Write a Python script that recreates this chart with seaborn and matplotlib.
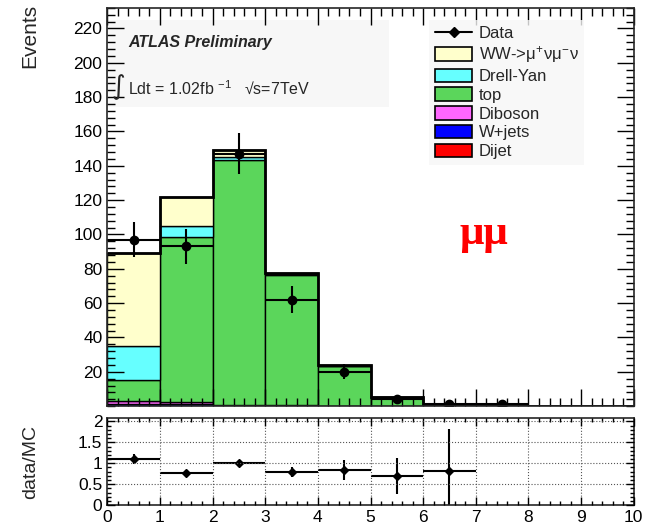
import numpy as np
import matplotlib
matplotlib.use("Agg")
import matplotlib.pyplot as plt
import seaborn as sns
from matplotlib.ticker import MultipleLocator, FixedLocator
from matplotlib.lines import Line2D
from matplotlib.patches import Patch

# bin edges / centres
edges = np.arange(0, 11, 1)
centres = edges[:-1] + 0.5

# MC stack components (per bin), bottom to top
dijet   = [0.3, 0.2, 0.1, 0.1, 0.0, 0.0, 0.0, 0.0, 0, 0]
wjets   = [0.7, 1.3, 0.3, 0.2, 0.1, 0.0, 0.0, 0.0, 0, 0]
diboson = [2.0, 0.8, 0.3, 0.3, 0.2, 0.1, 0.0, 0.0, 0, 0]
top     = [12.2, 96.0, 142.5, 76.0, 23.0, 5.2, 1.2, 0.2, 0, 0]
drellyan = [20.0, 6.5, 2.0, 0.5, 0.2, 0.0, 0.0, 0.0, 0, 0]
ww      = [54.0, 17.0, 4.0, 0.5, 0.2, 0.1, 0.0, 0.0, 0, 0]

# data
data_y   = [97, 93, 147, 62, 20, 4, 1, 1]
data_err = [10, 10, 12, 8, 4.5, 2, 1, 1]

# data / MC
ratio_y   = [1.11, 0.76, 1.0, 0.79, 0.85, 0.70, 0.81]
ratio_lo  = [0.12, 0.05, 0.09, 0.11, 0.24, 0.43, 0.81]
ratio_hi  = [0.12, 0.05, 0.09, 0.11, 0.24, 0.43, 1.02]

names  = ["Dijet", "W+jets", "Diboson", "top", "Drell-Yan", "WW->$\\mu^{+}\\nu\\mu^{-}\\nu$"]
colors = ["#ff0000", "#0000ff", "#ff66ff", "#5bd65b", "#66ffff", "#ffffcc"]
comps  = [dijet, wjets, diboson, top, drellyan, ww]

sns.set_theme(style="ticks")
plt.rcParams['font.family'] = ['Liberation Sans', 'DejaVu Sans']
plt.rcParams['mathtext.fontset'] = 'custom'
plt.rcParams['mathtext.rm'] = 'Liberation Sans'
plt.rcParams['mathtext.it'] = 'Liberation Sans'
plt.rcParams['axes.axisbelow'] = False
plt.rcParams['xtick.direction'] = 'in'
plt.rcParams['ytick.direction'] = 'in'
plt.rcParams['xtick.color'] = 'black'
plt.rcParams['ytick.color'] = 'black'

fig = plt.figure(figsize=(6.5, 5.24), dpi=100)
ax = fig.add_axes([0.165, 0.225, 0.81, 0.76])
ax2 = fig.add_axes([0.165, 0.036, 0.81, 0.166])

# stacked histogram
bottom = np.zeros(len(centres))
for vals, col in zip(comps, colors):
    vals = np.array(vals, dtype=float)
    ax.bar(centres, vals, width=1.0, bottom=bottom, color=col,
           edgecolor="black", linewidth=1.0)
    bottom = bottom + vals
# outline of total
ax.stairs(bottom, edges, color="black", linewidth=2.0, baseline=None)

# data points
ax.errorbar(centres[:len(data_y)], data_y, yerr=data_err, xerr=0.5,
            fmt="o", color="black", markersize=6, elinewidth=1.5, capsize=0)

ax.set_xlim(0, 10)
ax.set_ylim(0, 232)
ax.yaxis.set_major_locator(FixedLocator(np.arange(20, 221, 20)))
ax.yaxis.set_minor_locator(MultipleLocator(4))
ax.xaxis.set_major_locator(MultipleLocator(1))
ax.xaxis.set_minor_locator(MultipleLocator(0.2))
ax.tick_params(which="both", direction="in", top=True, right=True, labelbottom=False,
               color="black", zorder=5)
ax.tick_params(which="major", length=12, width=1.0, labelsize=12.5)
ax.tick_params(which="minor", length=6, width=1.0)
ax.set_ylabel("Events", fontsize=15)
ax.yaxis.set_label_coords(-0.13, 0.93)
for s in ax.spines.values():
    s.set_linewidth(1.2)
    s.set_zorder(6)

# text boxes
ax.add_patch(plt.Rectangle((0.0, 0.75), 0.535, 0.22, transform=ax.transAxes,
                           facecolor="#f7f7f7", edgecolor="none", zorder=0))
ax.text(0.04, 0.913, "ATLAS Preliminary", transform=ax.transAxes,
        fontsize=11.5, fontweight="bold", fontstyle="italic", va="center")
ax.text(0.008, 0.80, "\u222b", transform=ax.transAxes, fontsize=19,
        family="DejaVu Sans", va="center")
ax.text(0.04, 0.80, "Ldt = 1.02fb $^{-1}$   \u221as=7TeV",
        transform=ax.transAxes, fontsize=11.5, va="center")
ax.text(7.15, 100, "\u03bc\u03bc", color="#ff0000", fontsize=31, fontweight="bold",
        family="Liberation Serif", ha="center", va="center")

# legend
handles = [Line2D([0], [0], color="black", marker="D", markersize=5, lw=1.5)]
labels = ["Data"]
for n, c in list(zip(names, colors))[::-1]:
    handles.append(Patch(facecolor=c, edgecolor="black", linewidth=1.2))
    labels.append(n)
leg = ax.legend(handles, labels, loc="upper left", bbox_to_anchor=(0.612, 0.97),
                fontsize=12, frameon=True, handlelength=2.2, handleheight=0.85,
                labelspacing=0.2, handletextpad=0.4, borderpad=0.35, borderaxespad=0)
leg.get_frame().set_facecolor("#f7f7f7")
leg.get_frame().set_edgecolor("none")
leg.get_frame().set_boxstyle("square", pad=0)

# ratio panel
ax2.errorbar(centres[:len(ratio_y)], ratio_y, yerr=[ratio_lo, ratio_hi], xerr=0.5,
             fmt="D", color="black", markersize=4, elinewidth=1.5, capsize=0)
ax2.set_xlim(0, 10)
ax2.set_ylim(0, 2.08)
ax2.yaxis.set_major_locator(FixedLocator([0, 0.5, 1, 1.5, 2]))
ax2.set_yticklabels(["0", "0.5", "1", "1.5", "2"])
ax2.yaxis.set_minor_locator(MultipleLocator(0.1))
ax2.xaxis.set_major_locator(MultipleLocator(1))
ax2.xaxis.set_minor_locator(MultipleLocator(0.2))
ax2.tick_params(which="both", direction="in", top=True, right=True, color="black")
ax2.tick_params(which="major", length=6, width=1.0, labelsize=12.5)
ax2.tick_params(which="minor", length=3, width=1.0)
ax2.grid(True, which="major", linestyle=":", color="#555555", linewidth=0.8)
ax2.set_ylabel("data/MC", fontsize=14)
ax2.yaxis.set_label_coords(-0.13, 0.5)
for s in ax2.spines.values():
    s.set_linewidth(1.2)

fig.savefig("out.png", dpi=100)
